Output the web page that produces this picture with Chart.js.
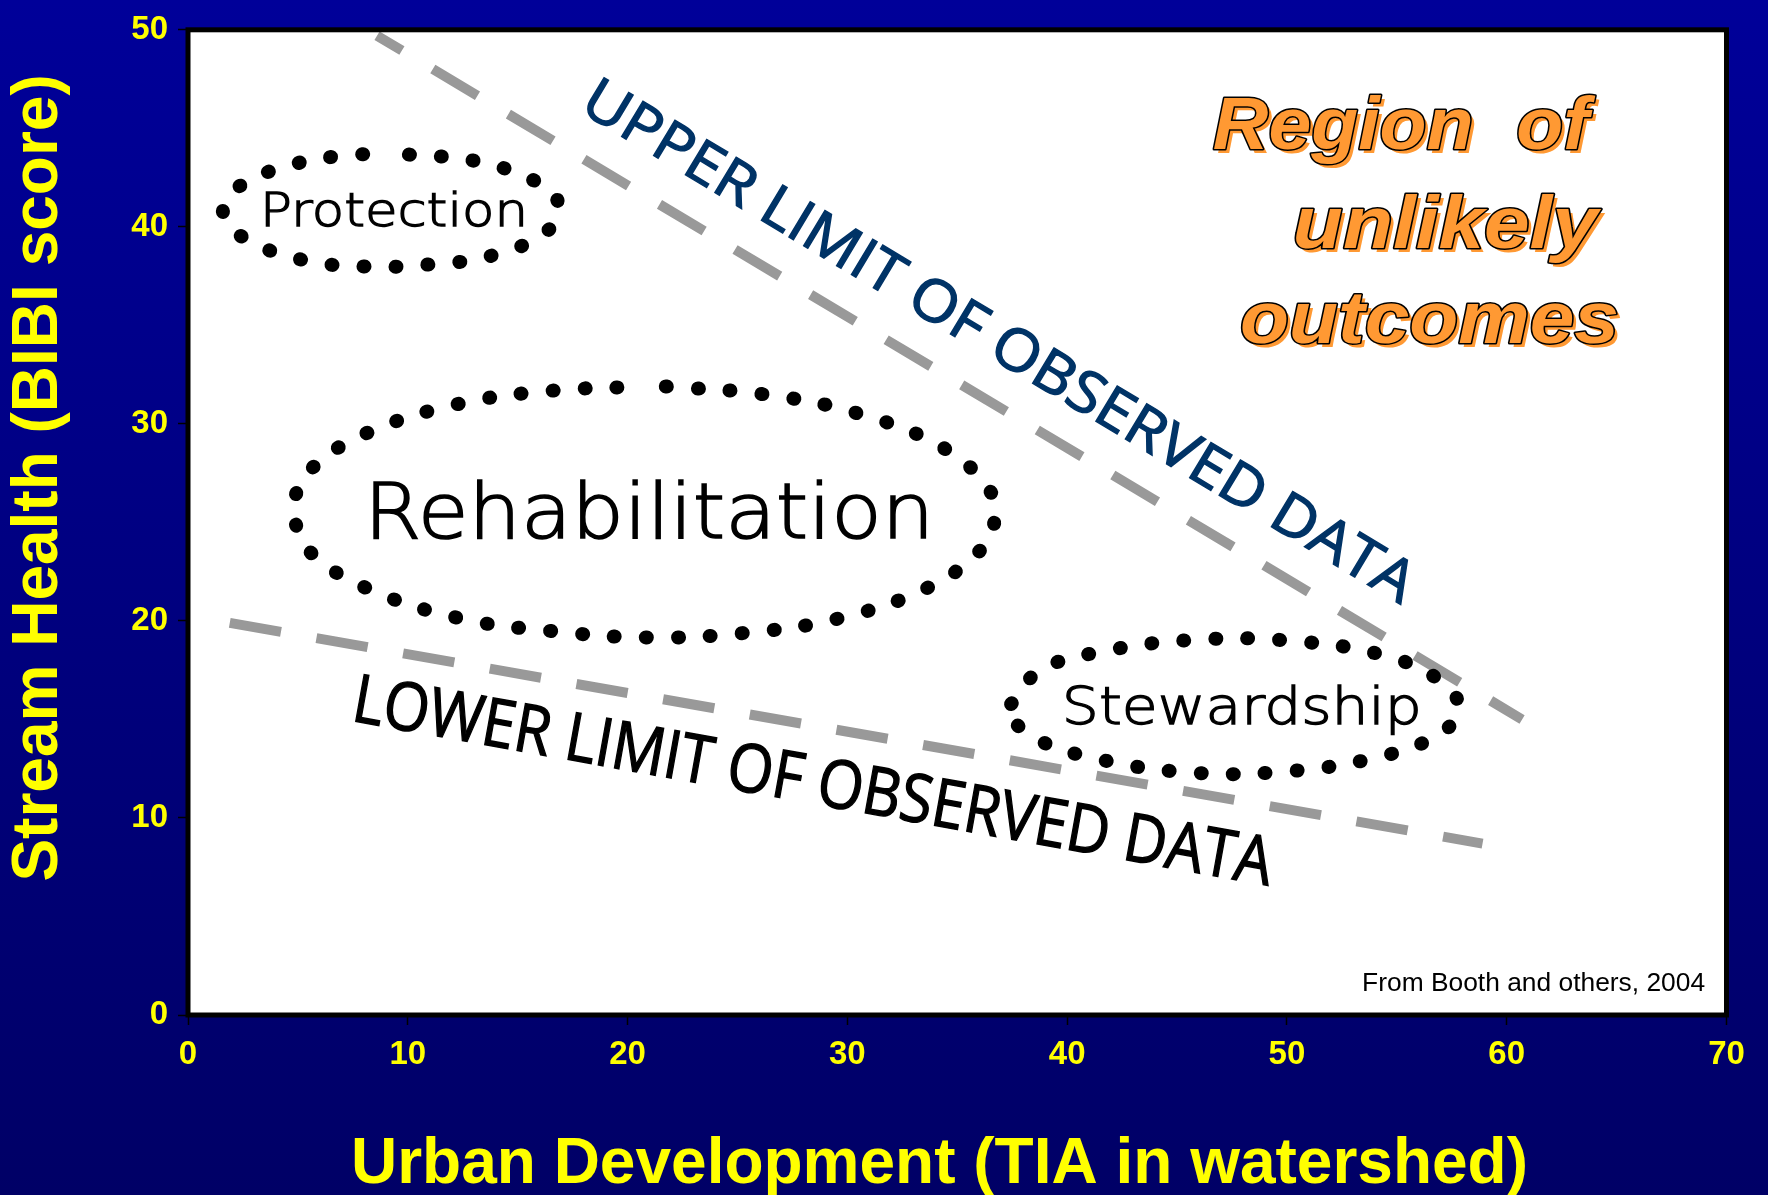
<!DOCTYPE html>
<html>
<head>
<meta charset="utf-8">
<title>Stream Health vs Urban Development</title>
<script src="https://cdn.jsdelivr.net/npm/chart.js@4.4.1/dist/chart.umd.min.js"></script>
<style>
  html, body { margin: 0; padding: 0; background: #000080; }
  #wrap { width: 1768px; height: 1195px; position: relative; }
</style>
</head>
<body>
<div id="wrap"><canvas id="bibiChart"></canvas></div>
<script>
// axis ticks
const xTickValues = [0, 10, 20, 30, 40, 50, 60, 70];
const yTickValues = [0, 10, 20, 30, 40, 50];

// limits of observed data (TIA %, BIBI score)
const upperLimitX = [8.6, 60.7];
const upperLimitY = [49.7, 15.0];
const lowerLimitX = [1.9, 58.9];
const lowerLimitY = [19.9, 8.7];

// dotted outlines of the management zones
const protectionX = [10.05, 12.95, 15.73, 16.82, 16.41, 13.82, 10.95, 8.0, 5.14, 2.45, 1.59, 2.27, 4.95, 7.82, 9.27];
const protectionY = [43.67, 43.37, 42.36, 41.31, 39.85, 38.54, 38.09, 37.99, 38.34, 39.50, 40.75, 42.01, 43.22, 43.67, 43.67];

const rehabX = [21.74, 26.15, 30.45, 34.45, 36.50, 36.70, 36.09, 33.68, 29.58, 25.23, 20.92, 16.51, 12.21, 8.05, 5.65, 4.93, 4.88, 5.60, 8.00, 12.21, 16.51, 20.82];
const rehabY = [31.90, 31.51, 30.54, 28.73, 26.58, 25.10, 23.63, 21.70, 20.12, 19.38, 19.16, 19.49, 20.17, 21.70, 23.40, 24.82, 26.29, 27.71, 29.47, 30.99, 31.68, 31.90];

const stewardX = [37.45, 38.77, 41.55, 45.91, 50.18, 54.45, 57.09, 57.82, 56.95, 54.27, 49.95, 45.55, 41.27, 38.55, 37.41];
const stewardY = [15.78, 17.49, 18.44, 19.05, 18.99, 18.24, 16.88, 15.53, 14.27, 13.12, 12.36, 12.31, 13.02, 14.02, 15.03];

const ARIAL = "'Liberation Sans', Arial, sans-serif";
const LABEL_FONT = "'DejaVu Sans', 'Noto Sans', sans-serif";
const LIMIT_FONT = "'Open Sans', 'Noto Sans', sans-serif";

// text notes placed on the plot (anchor in axis units, baseline left)
const notes = [
    { text: 'UPPER LIMIT OF OBSERVED DATA', x: 17.74, y: 45.92, angle: 31, width: 960, font: '58px ' + LIMIT_FONT, color: '#003366', line: 1.4 },
    { text: 'LOWER LIMIT OF OBSERVED DATA', x: 7.37, y: 14.95, angle: 10.2, width: 933, font: '67px ' + LIMIT_FONT, color: '#000000', line: 1.4 },
    { text: 'Protection', x: 3.28, y: 40.03, angle: 0, width: 268, font: '300 46px ' + LABEL_FONT, color: '#000000', line: 1.3 },
    { text: 'Rehabilitation', x: 8.01, y: 24.22, angle: 0, width: 570, font: '300 76px ' + LABEL_FONT, color: '#000000', line: 1.6 },
    { text: 'Stewardship', x: 39.76, y: 14.75, angle: 0, width: 360, font: '300 51px ' + LABEL_FONT, color: '#000000', line: 1.3 },
    { text: 'From Booth and others, 2004', x: 53.42, y: 1.21, angle: 0, width: 343, font: '26px ' + ARIAL, color: '#000000', line: 0 }
];

const regionLines = [
    { text: 'Region  of', x: 46.63, y: 43.96, width: 376 },
    { text: 'unlikely', x: 50.27, y: 38.92, width: 305 },
    { text: 'outcomes', x: 47.86, y: 34.09, width: 379 }
];

function toPoints(xs, ys) {
    return xs.map((x, i) => ({ x: x, y: ys[i] }));
}

function drawFitted(ctx, text, px, py, width, angle, stroke) {
    const w = ctx.measureText(text).width;
    ctx.save();
    ctx.translate(px, py);
    ctx.rotate(angle * Math.PI / 180);
    ctx.scale(width / w, 1);
    ctx.fillText(text, 0, 0);
    if (stroke) ctx.strokeText(text, 0, 0);
    ctx.restore();
}

const slideBackdrop = {
    id: 'slideBackdrop',
    beforeDraw(chart) {
        const { ctx, width, height, chartArea: a } = chart;
        const g = ctx.createLinearGradient(0, 0, 0, height);
        g.addColorStop(0, '#000099');
        g.addColorStop(1, '#000066');
        ctx.save();
        ctx.fillStyle = g;
        ctx.fillRect(0, 0, width, height);
        ctx.fillStyle = '#ffffff';
        ctx.fillRect(a.left, a.top, a.right - a.left, a.bottom - a.top);
        ctx.restore();
    },
    afterDatasetsDraw(chart) {
        const { ctx, chartArea: a, scales } = chart;
        ctx.save();
        ctx.strokeStyle = '#000000';
        ctx.lineWidth = 5;
        ctx.strokeRect(a.left, a.top, a.right - a.left, a.bottom - a.top);

        notes.forEach(n => {
            ctx.font = n.font;
            ctx.fillStyle = n.color;
            ctx.strokeStyle = n.color;
            ctx.lineWidth = n.line;
            drawFitted(ctx, n.text, scales.x.getPixelForValue(n.x), scales.y.getPixelForValue(n.y), n.width, n.angle, n.line > 0);
        });

        // orange outlined title with offset shadow
        ctx.font = 'italic bold 74px ' + ARIAL;
        ctx.lineJoin = 'round';
        regionLines.forEach(r => {
            const px = scales.x.getPixelForValue(r.x);
            const py = scales.y.getPixelForValue(r.y);
            ctx.fillStyle = '#ff9933';
            drawFitted(ctx, r.text, px + 4, py + 4, r.width, 0, false);
            ctx.strokeStyle = '#000000';
            ctx.lineWidth = 3;
            drawFitted(ctx, r.text, px, py, r.width, 0, true);
            ctx.fillStyle = '#ff9933';
            drawFitted(ctx, r.text, px, py, r.width, 0, false);
        });
        ctx.restore();
    }
};

const dashedStyle = {
    showLine: true,
    borderColor: '#999999',
    borderWidth: 10,
    borderDash: [52, 36],
    borderCapStyle: 'butt',
    pointRadius: 0,
    tension: 0,
    order: 2
};

const dottedStyle = {
    showLine: true,
    borderColor: '#000000',
    borderWidth: 14,
    borderDash: [1, 31],
    borderCapStyle: 'round',
    pointRadius: 0,
    tension: 0.4,
    order: 1
};

const ctx = document.getElementById('bibiChart');
new Chart(ctx, {
    type: 'scatter',
    data: {
        datasets: [
            Object.assign({ label: 'Upper limit', data: toPoints(upperLimitX, upperLimitY) }, dashedStyle, { borderDashOffset: 23 }),
            Object.assign({ label: 'Lower limit', data: toPoints(lowerLimitX, lowerLimitY) }, dashedStyle),
            Object.assign({ label: 'Protection', data: toPoints(protectionX, protectionY) }, dottedStyle),
            Object.assign({ label: 'Rehabilitation', data: toPoints(rehabX, rehabY) }, dottedStyle),
            Object.assign({ label: 'Stewardship', data: toPoints(stewardX, stewardY) }, dottedStyle)
        ]
    },
    options: {
        responsive: true,
        maintainAspectRatio: false,
        animation: false,
        events: [],
        layout: { padding: { top: 22, right: 41.5, left: 0, bottom: 0 } },
        plugins: {
            legend: { display: false },
            tooltip: { enabled: false }
        },
        scales: {
            x: {
                type: 'linear',
                min: 0,
                max: 70,
                afterBuildTicks: (scale) => { scale.ticks = xTickValues.map(v => ({ value: v })); },
                afterFit: (scale) => { scale.height = 180; },
                border: { display: false },
                grid: { drawOnChartArea: false, drawTicks: true, tickLength: 10, tickColor: '#000000', tickWidth: 1.5 },
                ticks: {
                    color: '#ffff00',
                    padding: 10,
                    maxRotation: 0,
                    autoSkip: false,
                    font: { family: ARIAL, size: 33, weight: 'bold' }
                },
                title: {
                    display: true,
                    text: 'Urban Development (TIA in watershed)  ',
                    color: '#ffff00',
                    padding: { top: 0, bottom: -2 },
                    font: { family: ARIAL, size: 64, weight: 'bold', lineHeight: 1 }
                }
            },
            y: {
                type: 'linear',
                min: 0,
                max: 50,
                afterBuildTicks: (scale) => { scale.ticks = yTickValues.map(v => ({ value: v })); },
                afterFit: (scale) => { scale.width = 188; },
                border: { display: false },
                grid: { drawOnChartArea: false, drawTicks: true, tickLength: 10, tickColor: '#000000', tickWidth: 1.5 },
                ticks: {
                    color: '#ffff00',
                    padding: 10,
                    font: { family: ARIAL, size: 33, weight: 'bold' }
                },
                title: {
                    display: true,
                    text: '     Stream Health (BIBI score)',
                    color: '#ffff00',
                    padding: { top: 7, bottom: 0 },
                    font: { family: ARIAL, size: 64, weight: 'bold', lineHeight: 1 }
                }
            }
        }
    },
    plugins: [slideBackdrop]
});
</script>
</body>
</html>
